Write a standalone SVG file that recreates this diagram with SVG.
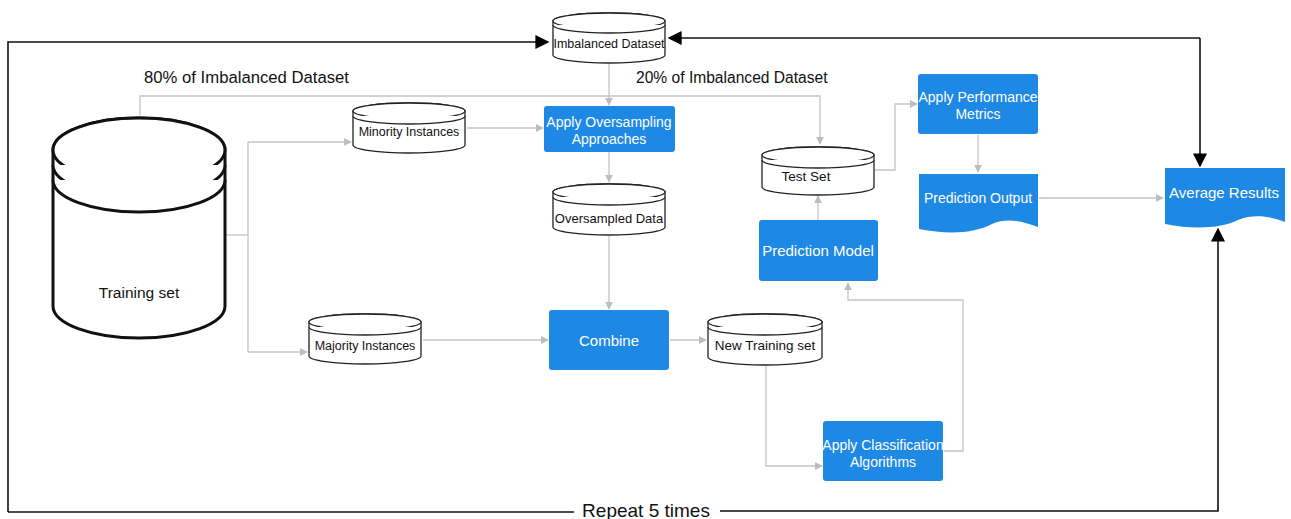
<svg xmlns="http://www.w3.org/2000/svg" width="1291" height="519" viewBox="0 0 1291 519">
<style>
.bg{fill:#fff}
.cyl{fill:#fff;stroke:#222;stroke-width:1.3}
.cylbig{fill:#fff;stroke:#111;stroke-width:3}
.box{fill:#1e88e5;stroke:none}
.ct{font-family:"Liberation Sans",Arial,sans-serif;font-size:12.5px;fill:#111;text-anchor:middle}
.bt{font-family:"Liberation Sans",Arial,sans-serif;font-size:14px;fill:#fff;text-anchor:middle}
.lbl{font-family:"Liberation Sans",Arial,sans-serif;font-size:15px;fill:#111}
.g{fill:none;stroke:#c4c4c4;stroke-width:1.3}
.k{fill:none;stroke:#111;stroke-width:1.6}
</style>
<defs>
<marker id="ga" viewBox="0 0 10 10" refX="9" refY="5" markerWidth="8" markerHeight="8" markerUnits="userSpaceOnUse" orient="auto"><path d="M0,0 L10,5 L0,10 Z" fill="#bdbdbd"/></marker>
<marker id="ka" viewBox="0 0 10 10" refX="9" refY="5" markerWidth="14" markerHeight="14" markerUnits="userSpaceOnUse" orient="auto"><path d="M0,0 L10,5 L0,10 Z" fill="#000"/></marker>
</defs>
<rect class="bg" width="1291" height="519"/>

<g id="connectors">
<path class="k" d="M8,512 V42 H548" marker-end="url(#ka)"/>
<path class="k" d="M1200,38 H669" marker-end="url(#ka)"/>
<path class="k" d="M1200,38 V166" marker-end="url(#ka)"/>
<path class="k" d="M8,512 H574"/>
<path class="k" d="M720,511 H1218 V229" marker-end="url(#ka)"/>
<path class="g" d="M609,64 V105" marker-end="url(#ga)"/>
<path class="g" d="M140,115 V96 H820 V144" marker-end="url(#ga)"/>
<path class="g" d="M226,235 H248"/>
<path class="g" d="M248,142 V352"/>
<path class="g" d="M248,142 H351" marker-end="url(#ga)"/>
<path class="g" d="M248,352 H307" marker-end="url(#ga)"/>
<path class="g" d="M467,128 H543" marker-end="url(#ga)"/>
<path class="g" d="M609,152 V182" marker-end="url(#ga)"/>
<path class="g" d="M609,236 V309" marker-end="url(#ga)"/>
<path class="g" d="M423,340 H548" marker-end="url(#ga)"/>
<path class="g" d="M670,340 H706" marker-end="url(#ga)"/>
<path class="g" d="M766,366 V466 H822" marker-end="url(#ga)"/>
<path class="g" d="M944,451 H963 V300 H848 V283" marker-end="url(#ga)"/>
<path class="g" d="M818,220 V196" marker-end="url(#ga)"/>
<path class="g" d="M875,170 H895 V104 H917" marker-end="url(#ga)"/>
<path class="g" d="M978,135 V172" marker-end="url(#ga)"/>
<path class="g" d="M1039,198 H1163" marker-end="url(#ga)"/>
</g>

<g id="imbalanced">
<path class="cyl" d="M553,21 V55 A56,8 0 0 0 665,55 V21 A56,8 0 0 0 553,21 Z"/>
<ellipse class="cyl" cx="609" cy="21" rx="56" ry="8"/>
<path class="cyl" fill="none" d="M553,25 A56,8 0 0 0 665,25"/>
<text class="ct" x="609" y="48">Imbalanced Dataset</text>
</g>

<text class="lbl" x="144" y="83" style="font-size:16.7px">80% of Imbalanced Dataset</text>
<text class="lbl" x="636" y="83" style="font-size:15.6px">20% of Imbalanced Dataset</text>

<g id="training">
<path class="cylbig" d="M53,150 V306 A86,32 0 0 0 225,306 V150 A86,32 0 0 0 53,150 Z"/>
<ellipse class="cylbig" cx="139" cy="150" rx="86" ry="32"/>
<path class="cylbig" fill="none" d="M53,165 A86,32 0 0 0 225,165"/>
<path class="cylbig" fill="none" d="M53,180 A86,32 0 0 0 225,180"/>
<text class="lbl" x="139" y="298" text-anchor="middle" style="font-size:15.5px">Training set</text>
</g>

<g id="minority">
<path class="cyl" d="M353,111 V145 A56,8 0 0 0 465,145 V111 A56,8 0 0 0 353,111 Z"/>
<ellipse class="cyl" cx="409" cy="111" rx="56" ry="8"/>
<path class="cyl" fill="none" d="M353,116 A56,8 0 0 0 465,116"/>
<text class="ct" x="409" y="136">Minority Instances</text>
</g>

<g id="majority">
<path class="cyl" d="M309,322 V356 A56,8 0 0 0 421,356 V322 A56,8 0 0 0 309,322 Z"/>
<ellipse class="cyl" cx="365" cy="322" rx="56" ry="8"/>
<path class="cyl" fill="none" d="M309,327 A56,8 0 0 0 421,327"/>
<text class="ct" x="365" y="350">Majority Instances</text>
</g>

<g id="oversampling">
<rect class="box" x="544" y="106" width="131" height="46" rx="3"/>
<text class="bt" x="609" y="127">Apply Oversampling</text>
<text class="bt" x="609" y="144">Approaches</text>
</g>

<g id="oversampled">
<path class="cyl" d="M553,192 V227 A56,8 0 0 0 665,227 V192 A56,8 0 0 0 553,192 Z"/>
<ellipse class="cyl" cx="609" cy="192" rx="56" ry="8"/>
<path class="cyl" fill="none" d="M553,197 A56,8 0 0 0 665,197"/>
<text class="ct" x="609" y="223" style="font-size:13px">Oversampled Data</text>
</g>

<g id="combine">
<rect class="box" x="549" y="310" width="120" height="60" rx="3"/>
<text class="bt" x="609" y="346" style="font-size:15px">Combine</text>
</g>

<g id="newtraining">
<path class="cyl" d="M708,322 V357 A57,8 0 0 0 822,357 V322 A57,8 0 0 0 708,322 Z"/>
<ellipse class="cyl" cx="765" cy="322" rx="57" ry="8"/>
<path class="cyl" fill="none" d="M708,327 A57,8 0 0 0 822,327"/>
<text class="ct" x="765" y="350" style="font-size:13.5px">New Training set</text>
</g>

<g id="classification">
<rect class="box" x="823" y="421" width="120" height="60" rx="3"/>
<text class="bt" x="883" y="450">Apply Classification</text>
<text class="bt" x="883" y="467">Algorithms</text>
</g>

<g id="predmodel">
<rect class="box" x="759" y="220" width="119" height="61" rx="3"/>
<text class="bt" x="818" y="256" style="font-size:15px">Prediction Model</text>
</g>

<g id="testset">
<path class="cyl" d="M762,155 V187 A56,8 0 0 0 874,187 V155 A56,8 0 0 0 762,155 Z"/>
<ellipse class="cyl" cx="818" cy="155" rx="56" ry="8"/>
<path class="cyl" fill="none" d="M762,160 A56,8 0 0 0 874,160"/>
<text class="ct" x="806" y="181" style="font-size:13.5px">Test Set</text>
</g>

<g id="performance">
<rect class="box" x="918" y="74" width="120" height="60" rx="3"/>
<text class="bt" x="978" y="102">Apply Performance</text>
<text class="bt" x="978" y="119">Metrics</text>
</g>

<g id="predoutput">
<path class="box" d="M919,174 H1038 V227 C1025,222 1008,217 992,224 C975,233 950,235 919,229 Z"/>
<text class="bt" x="978" y="203">Prediction Output</text>
</g>

<g id="average">
<path class="box" d="M1165,168 H1285 V222 C1272,217 1255,213 1238,220 C1222,228 1195,230 1165,224 Z"/>
<text class="bt" x="1224" y="198" style="font-size:15px">Average Results</text>
</g>

<text x="646" y="517" text-anchor="middle" font-family="Liberation Sans,Arial,sans-serif" font-size="19" fill="#111">Repeat 5 times</text>
</svg>
